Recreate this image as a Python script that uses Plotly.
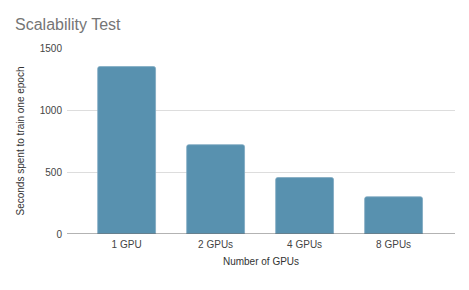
import plotly.graph_objects as go

categories = ["1 GPU", "2 GPUs", "4 GPUs", "8 GPUs"]
seconds = [1350, 720, 455, 300]
y_ticks = [0, 500, 1000, 1500]

# the page body has an 8px default margin, so the figure is sized to fill the rest
W, H = 461, 282

fig = go.Figure()
fig.add_trace(go.Bar(
    x=categories, y=seconds,
    marker=dict(color="#5891AF", line=dict(color="#7FAAC2", width=0.8)),
))
fig.update_layout(
    width=W, height=H,
    margin=dict(l=59, r=14, t=40, b=56, autoexpand=False),
    paper_bgcolor="white", plot_bgcolor="white",
    font=dict(family="Liberation Sans, Arial, sans-serif", size=10, color="#444444"),
    title=dict(text="Scalability Test", xref="container", x=7 / W, xanchor="left",
               yref="container", y=1 - 11 / H, yanchor="top",
               font=dict(size=16, color="#757575")),
    bargap=0.35,
    barcornerradius=2,
    showlegend=False,
    xaxis=dict(range=[-0.67, 3.69], showgrid=False, ticks="", automargin=False,
               ticklabelstandoff=3,
               tickfont=dict(size=10, color="#444444"),
               title=dict(text="Number of GPUs", font=dict(size=10, color="#333333"), standoff=8)),
    yaxis=dict(range=[0, 1500], tickvals=y_ticks, showgrid=True, gridcolor="#DDDDDD", gridwidth=1,
               zeroline=False, showline=False, ticks="", automargin=False,
               ticklabelstandoff=4,
               tickfont=dict(size=10, color="#444444"),
               title=dict(text="Seconds spent to train one epoch", font=dict(size=10, color="#333333"), standoff=13)),
)
fig.add_shape(type="line", xref="paper", yref="y", x0=0, x1=1, y0=0, y1=0,
              line=dict(color="#666666", width=1))
fig.write_html("out.html")
